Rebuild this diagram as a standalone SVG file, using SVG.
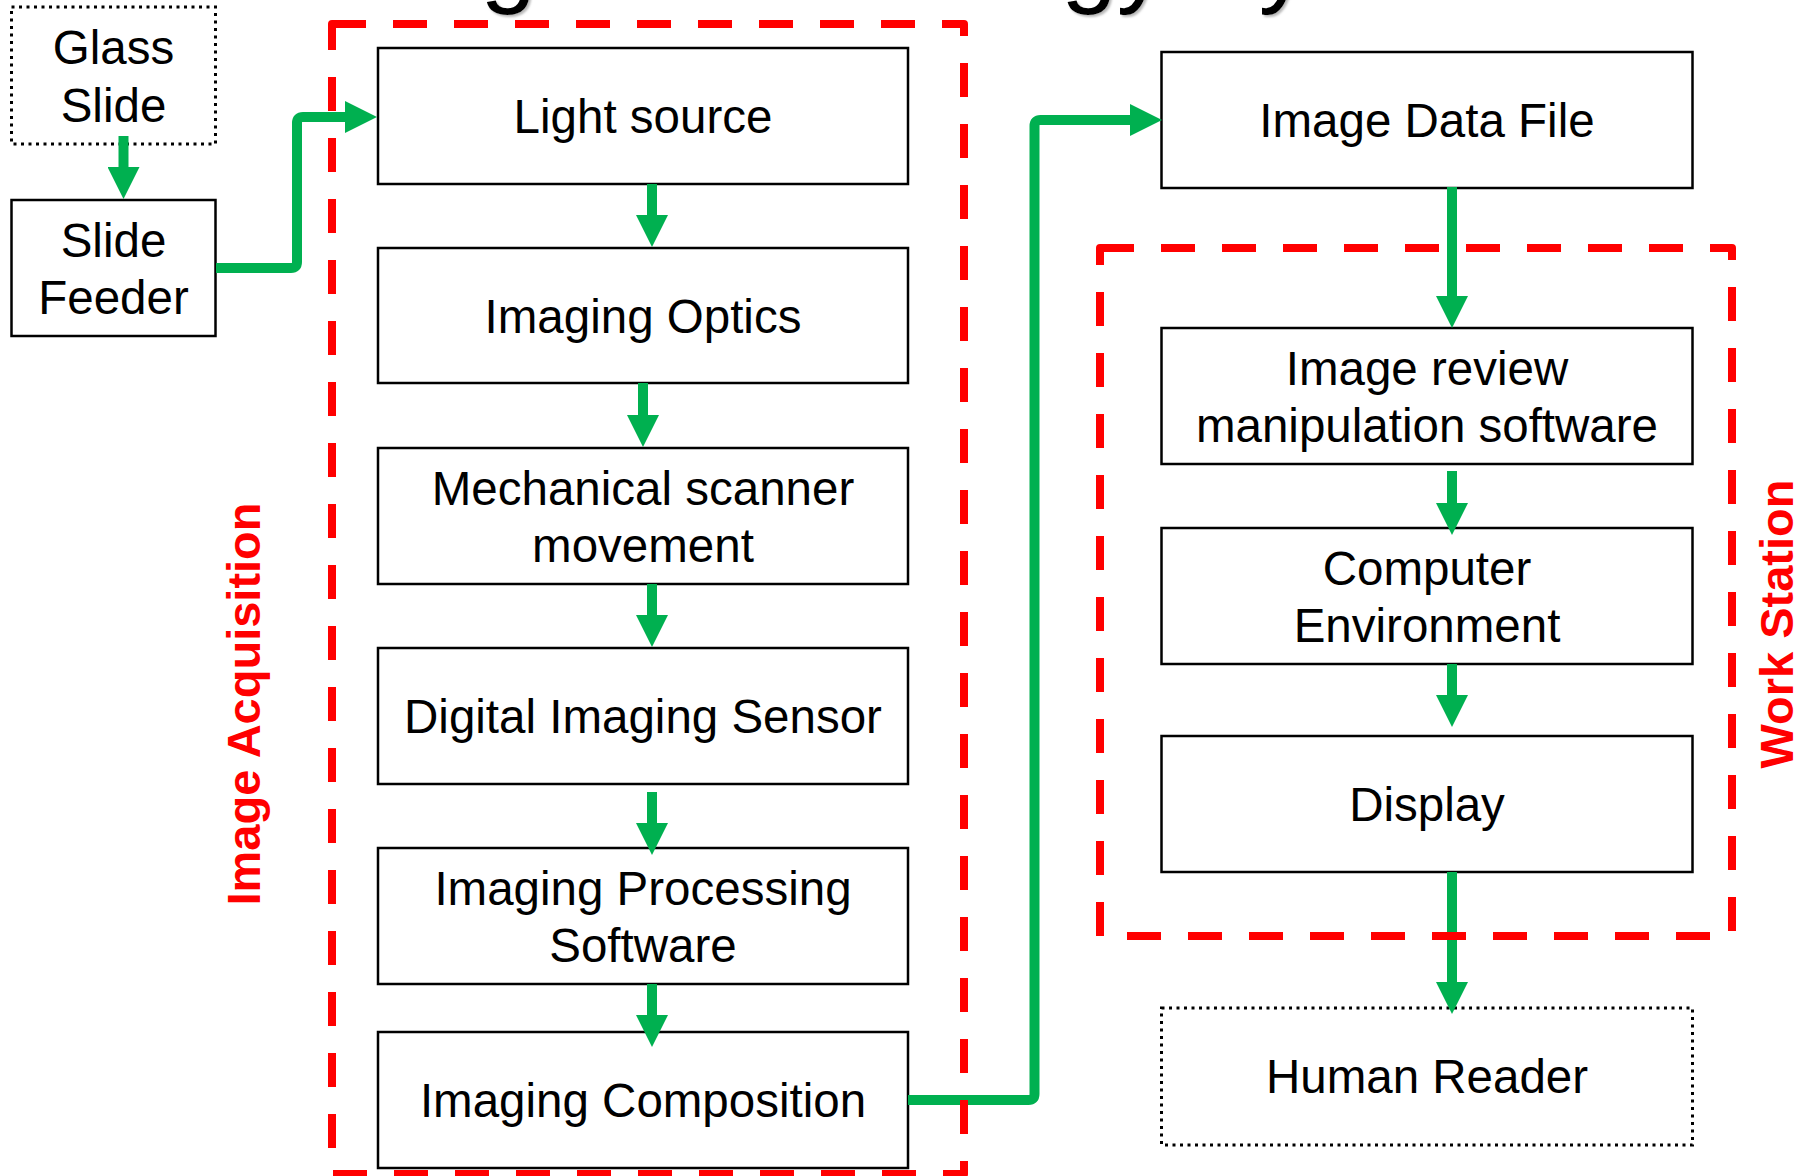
<svg xmlns="http://www.w3.org/2000/svg" width="1810" height="1176" viewBox="0 0 1810 1176">
  <style>
    .box { fill: #ffffff; stroke: #000000; stroke-width: 2.5; }
    .dotted { fill: #ffffff; stroke: #000000; stroke-width: 3; stroke-dasharray: 3 4.5; }
    .lbl { font-family: "Liberation Sans", Arial, sans-serif; font-size: 47.5px; fill: #000000; text-anchor: middle; }
    .conn { fill: none; stroke: #00B050; stroke-width: 10; marker-end: url(#ah); }
    .grp { fill: none; stroke: #FF0000; stroke-width: 8; stroke-dasharray: 34 27; stroke-linejoin: round; }
    .glbl { font-family: "Liberation Sans", Arial, sans-serif; font-size: 47px; font-weight: bold; fill: #FF0000; text-anchor: middle; }
    .title { font-family: "Liberation Sans", Arial, sans-serif; font-size: 100px; fill: #000000; }
  </style>
  <defs>
    <marker id="ah" markerUnits="userSpaceOnUse" markerWidth="32" markerHeight="32" viewBox="0 0 32 32" refX="12" refY="16" orient="auto">
      <path d="M0,0 L32,16 L0,32 z" fill="#00B050"/>
    </marker>
    <filter id="shadow" x="-5%" y="-50%" width="110%" height="200%">
      <feDropShadow dx="2" dy="2" stdDeviation="1" flood-color="#888888" flood-opacity="0.6"/>
    </filter>
  </defs>

  <g id="title" filter="url(#shadow)">
    <text class="title" y="-6"><tspan x="386">Digital</tspan><tspan x="722">Pathology</tspan><tspan x="1192">System</tspan></text>
  </g>

  <g id="glass-slide">
    <rect class="dotted" x="11.5" y="7" width="204" height="137"/>
    <text class="lbl" x="113.5" y="64">Glass</text>
    <text class="lbl" x="113.5" y="121.5">Slide</text>
  </g>
  <g id="slide-feeder">
    <rect class="box" x="11.5" y="200" width="204" height="136"/>
    <text class="lbl" x="113.5" y="256.5">Slide</text>
    <text class="lbl" x="113.5" y="314">Feeder</text>
  </g>

  <g id="light-source">
    <rect class="box" x="378" y="48" width="530" height="136"/>
    <text class="lbl" x="643" y="133">Light source</text>
  </g>
  <g id="imaging-optics">
    <rect class="box" x="378" y="248" width="530" height="135"/>
    <text class="lbl" x="643" y="332.5">Imaging Optics</text>
  </g>
  <g id="mechanical-scanner">
    <rect class="box" x="378" y="448" width="530" height="136"/>
    <text class="lbl" x="643" y="504.5">Mechanical scanner</text>
    <text class="lbl" x="643" y="561.5">movement</text>
  </g>
  <g id="digital-imaging-sensor">
    <rect class="box" x="378" y="648" width="530" height="136"/>
    <text class="lbl" x="643" y="733">Digital Imaging Sensor</text>
  </g>
  <g id="imaging-processing">
    <rect class="box" x="378" y="848" width="530" height="136"/>
    <text class="lbl" x="643" y="904.5">Imaging Processing</text>
    <text class="lbl" x="643" y="961.5">Software</text>
  </g>
  <g id="imaging-composition">
    <rect class="box" x="378" y="1032" width="530" height="136"/>
    <text class="lbl" x="643" y="1117">Imaging Composition</text>
  </g>

  <g id="image-data-file">
    <rect class="box" x="1161.5" y="52" width="531" height="136"/>
    <text class="lbl" x="1427" y="137">Image Data File</text>
  </g>
  <g id="image-review">
    <rect class="box" x="1161.5" y="328" width="531" height="136"/>
    <text class="lbl" x="1427" y="384.5">Image review</text>
    <text class="lbl" x="1427" y="441.5">manipulation software</text>
  </g>
  <g id="computer-environment">
    <rect class="box" x="1161.5" y="528" width="531" height="136"/>
    <text class="lbl" x="1427" y="584.5">Computer</text>
    <text class="lbl" x="1427" y="641.5">Environment</text>
  </g>
  <g id="display">
    <rect class="box" x="1161.5" y="736" width="531" height="136"/>
    <text class="lbl" x="1427" y="821">Display</text>
  </g>
  <g id="human-reader">
    <rect class="dotted" x="1161.5" y="1008" width="531" height="137"/>
    <text class="lbl" x="1427" y="1093">Human Reader</text>
  </g>

  <g id="connectors">
    <path class="conn" d="M123.5,136 V179"/>
    <path class="conn" d="M216,268 H291 Q297,268 297,262 V123 Q297,117 303,117 H357"/>
    <path class="conn" d="M652,184 V227"/>
    <path class="conn" d="M643,383 V427"/>
    <path class="conn" d="M652,584 V627"/>
    <path class="conn" d="M652,792 V835"/>
    <path class="conn" d="M652,984 V1027"/>
    <path class="conn" d="M908,1100 H1028.5 Q1034.5,1100 1034.5,1094 V126 Q1034.5,120 1040.5,120 H1142"/>
    <path class="conn" d="M1452,187 V308"/>
    <path class="conn" d="M1452,471 V515"/>
    <path class="conn" d="M1452,664 V707"/>
    <path class="conn" d="M1452,872 V994"/>
  </g>

  <g id="image-acquisition">
    <rect class="grp" x="332" y="24" width="632" height="1150"/>
    <text class="glbl" transform="translate(260,704) rotate(-90)">Image Acquisition</text>
  </g>
  <g id="work-station">
    <rect class="grp" x="1100" y="248" width="632" height="688"/>
    <text class="glbl" transform="translate(1793,624) rotate(-90)">Work Station</text>
  </g>
</svg>
